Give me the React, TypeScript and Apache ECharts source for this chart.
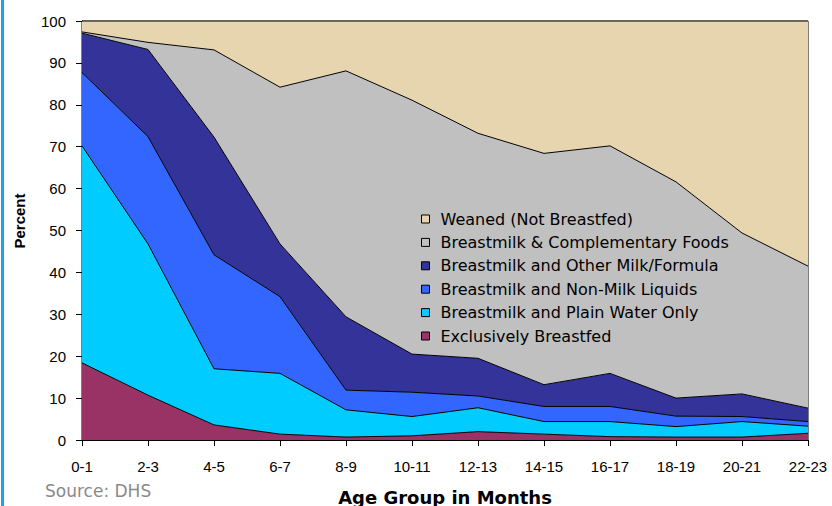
import React, { useEffect, useRef } from "react";
import * as echarts from "echarts";

const categories = ["0-1", "2-3", "4-5", "6-7", "8-9", "10-11", "12-13", "14-15", "16-17", "18-19", "20-21", "22-23"];
const yTicks = [0, 10, 20, 30, 40, 50, 60, 70, 80, 90, 100];

const exclusivelyBreastfed = [18.4, 10.7, 3.6, 1.4, 0.7, 1.0, 2.0, 1.4, 0.8, 0.7, 0.7, 1.6];
const plainWaterOnly = [51.8, 36.1, 13.4, 14.5, 6.5, 4.6, 5.7, 3.0, 3.6, 2.5, 3.7, 1.7];
const nonMilkLiquids = [17.5, 25.6, 27.2, 18.3, 4.7, 5.8, 2.8, 3.6, 3.6, 2.5, 1.2, 1.1];
const otherMilkFormula = [9.4, 20.8, 28.1, 12.6, 17.5, 9.1, 9.0, 5.2, 7.9, 4.3, 5.4, 3.2];
const complementaryFoods = [0.3, 1.7, 20.8, 37.4, 58.7, 60.6, 53.7, 55.2, 54.3, 51.6, 38.4, 33.9];
const weaned = [2.6, 5.1, 6.9, 15.8, 11.9, 18.9, 26.8, 31.6, 29.8, 38.4, 50.6, 58.5];

const seriesNames = [
  "Exclusively Breastfed",
  "Breastmilk and Plain Water Only",
  "Breastmilk and Non-Milk Liquids",
  "Breastmilk and Other Milk/Formula",
  "Breastmilk & Complementary Foods",
  "Weaned (Not Breastfed)",
];
const seriesData = [exclusivelyBreastfed, plainWaterOnly, nonMilkLiquids, otherMilkFormula, complementaryFoods, weaned];
const seriesColors = ["#993366", "#00ccff", "#3366ff", "#333399", "#c0c0c0", "#e6d5ae"];

export default function App() {
  const ref = useRef<HTMLDivElement>(null);
  useEffect(() => {
    if (!ref.current) return;
    const chart = echarts.init(ref.current, null, { renderer: "svg" });
    const axisFont = { fontFamily: "Liberation Sans", fontSize: 15, color: "#000" };
    chart.setOption({
      animation: false,
      backgroundColor: "#ffffff",
      grid: {
        left: 82,
        right: 24,
        top: 21,
        bottom: 66,
        show: true,
        borderColor: "#000",
        borderWidth: 1,
        backgroundColor: "transparent",
      },
      legend: {
        orient: "vertical",
        left: 416,
        top: 206,
        data: [...seriesNames].reverse(),
        icon: "rect",
        itemWidth: 8,
        itemHeight: 8,
        itemGap: 7.4,
        itemStyle: { borderColor: "#000", borderWidth: 1 },
        textStyle: {
          fontFamily: "DejaVu Sans",
          fontSize: 16,
          color: "#000",
          lineHeight: 16,
          padding: [0, 0, 0, 6],
        },
      },
      xAxis: {
        type: "category",
        data: categories,
        boundaryGap: false,
        axisLine: { lineStyle: { color: "#000", width: 1 } },
        axisTick: { show: true, length: 6, lineStyle: { color: "#000" }, alignWithLabel: true },
        axisLabel: { ...axisFont, margin: 19, interval: 0 },
        splitLine: { show: false },
      },
      yAxis: {
        type: "value",
        min: yTicks[0],
        max: yTicks[yTicks.length - 1],
        interval: 10,
        axisLine: { show: true, lineStyle: { color: "#000", width: 1 } },
        axisTick: { show: true, length: 6, lineStyle: { color: "#000" } },
        axisLabel: { ...axisFont, margin: 16 },
        splitLine: { show: false },
      },
      series: seriesNames.map((name, i) => ({
        name,
        type: "line",
        stack: "total",
        data: seriesData[i],
        showSymbol: false,
        symbol: "none",
        lineStyle: { color: "#000", width: 1 },
        itemStyle: { color: seriesColors[i] },
        areaStyle: { color: seriesColors[i], opacity: 1 },
        z: 2,
      })),
      graphic: [
        { type: "rect", left: 1, top: 0, shape: { width: 3, height: 506 }, style: { fill: "#1ba3e6" } },
        {
          type: "text",
          x: 19,
          y: 221,
          rotation: Math.PI / 2,
          style: {
            text: "Percent",
            fontFamily: "Liberation Sans",
            fontWeight: "bold",
            fontSize: 15,
            fill: "#000",
            align: "center",
            verticalAlign: "middle",
          },
        },
        {
          type: "text",
          x: 445,
          y: 497,
          style: {
            text: "Age Group in Months",
            fontFamily: "DejaVu Sans",
            fontWeight: "bold",
            fontSize: 18,
            fill: "#000",
            align: "center",
            verticalAlign: "middle",
          },
        },
        {
          type: "text",
          x: 45,
          y: 491,
          style: {
            text: "Source: DHS",
            fontFamily: "DejaVu Sans",
            fontSize: 17,
            fill: "#8a8a8a",
            align: "left",
            verticalAlign: "middle",
          },
        },
      ],
    });
    return () => chart.dispose();
  }, []);
  return <div ref={ref} style={{ position: "absolute", left: 0, top: 0, width: 832, height: 506 }} />;
}
